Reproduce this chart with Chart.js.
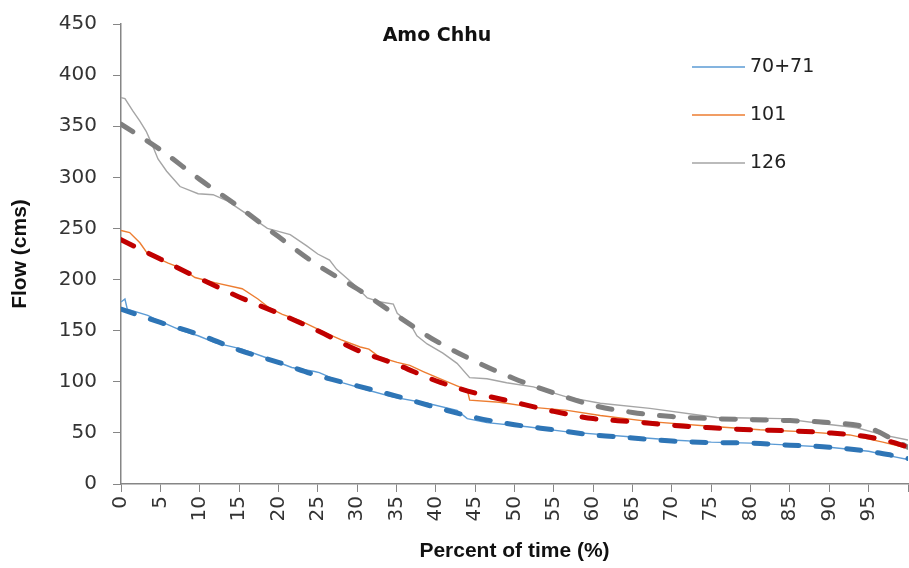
<!DOCTYPE html>
<html>
<head>
<meta charset="utf-8">
<script src="https://cdn.jsdelivr.net/npm/chart.js@4.4.1/dist/chart.umd.min.js"></script>
<style>
  html, body { margin: 0; padding: 0; background: #fff; }
  #wrap { width: 909px; height: 568px; }
</style>
</head>
<body>
<div id="wrap"><canvas id="grafico" width="909" height="568"></canvas></div>
<script>
// observed flow duration curves (thin lines)
const pct7071 = [0, 0.5, 0.8, 3.4, 4.7, 7.7, 9.8, 12, 15.4, 18.3, 21.7, 24.6, 25.2, 28.2, 31.3, 34.6, 38.9, 42.7, 44, 46.5, 51.6, 56.7, 65, 70, 75, 80, 85, 90, 95, 98, 100];
const flow7071 = [178, 181, 171, 165, 160, 150, 145, 138, 132, 124, 114, 110, 109, 99, 92, 85, 79, 72, 64, 60, 56, 51, 46, 43, 41, 40, 38, 36, 32, 27, 24];

const pct101 = [0, 1.1, 2.4, 3.4, 6, 7.7, 9.4, 11.9, 15.4, 17.4, 18.9, 20.5, 22.7, 26.2, 28, 30.4, 31.5, 32.9, 35.1, 36.7, 38.4, 40.5, 42.7, 44, 44.3, 48.1, 52.4, 56.7, 60.9, 67.2, 75.7, 81.2, 87.2, 92.6, 96.8, 100];
const flow101 = [248, 246, 236, 225, 216, 211, 202, 197, 191, 181, 172, 166, 160, 147, 141, 134, 132, 124, 119, 116, 110, 103, 96, 92, 82, 80, 75, 72, 67, 61, 56, 53, 51, 48, 41, 35];

const pct126 = [0, 0.5, 1.5, 2.4, 3.2, 3.9, 4.7, 5.8, 7.5, 9.8, 11.7, 13.5, 16, 18.6, 21.5, 23.6, 25, 26.5, 27.4, 29.5, 31.3, 33, 34.6, 35.1, 36.7, 37.6, 38.9, 40.9, 42.7, 44.3, 46.5, 49, 52.4, 56.7, 60.9, 67.2, 75.7, 84.1, 89.2, 93.5, 96.8, 100];
const flow126 = [378, 377, 365, 355, 345, 333, 318, 306, 291, 284, 283, 277, 264, 250, 244, 233, 225, 219, 210, 196, 182, 178, 176, 167, 157, 145, 137, 128, 118, 104, 103, 99, 95, 85, 79, 74, 65, 64, 59, 55, 48, 43];

// fitted curves (thick dashed lines)
const pctFit = [0, 5, 10, 15, 20, 25, 30, 35, 40, 45, 50, 55, 60, 65, 70, 75, 80, 85, 90, 95, 98, 100];
const fit7071 = [171, 158, 146, 131, 119, 106, 96, 86, 75, 65, 58, 53, 48, 45, 42, 40.5, 40, 38, 36, 32, 28, 25];
const fit101 = [239, 220, 201, 183, 167, 150, 131, 117, 101, 89, 80, 71, 64, 61, 57.5, 55, 53, 52, 50, 46, 41, 36];
const fit126 = [352, 327, 298, 271, 242, 214, 191, 165, 140, 120, 103, 89, 77, 70, 66, 64, 63, 62, 60, 55, 44, 36];

const xTicks = [0, 5, 10, 15, 20, 25, 30, 35, 40, 45, 50, 55, 60, 65, 70, 75, 80, 85, 90, 95];
const legendLabels = ["70+71", "101", "126"];
const chartTitle = "Amo Chhu";

const pares = (xs, ys) => xs.map((x, i) => ({ x: x, y: ys[i] }));

function linhaFina(label, xs, ys, cor) {
  return { label, data: pares(xs, ys), borderColor: cor, borderWidth: 1.4, pointRadius: 0, tension: 0, fill: false, order: 2 };
}
function linhaAjuste(label, xs, ys, cor) {
  return {
    label, data: pares(xs, ys), borderColor: cor, borderWidth: 5, borderDash: [14, 17],
    borderCapStyle: 'round', pointRadius: 0, cubicInterpolationMode: 'monotone', fill: false, order: 1
  };
}

// legenda e titulo desenhados dentro da area do grafico
const legendaInterna = {
  id: 'legendaInterna',
  afterDraw(chart) {
    const ctx = chart.ctx;
    const cores = ['#5B9BD5', '#ED7D31', '#A5A5A5'];
    ctx.save();
    ctx.font = '19px "DejaVu Sans"';
    ctx.textBaseline = 'middle';
    legendLabels.forEach((t, i) => {
      const y = 67 + i * 48;
      ctx.strokeStyle = cores[i];
      ctx.lineWidth = 1.5;
      ctx.beginPath();
      ctx.moveTo(692, y);
      ctx.lineTo(745, y);
      ctx.stroke();
      ctx.fillStyle = '#222';
      ctx.fillText(t, 750, y);
    });
    ctx.font = 'bold 19px "DejaVu Sans"';
    ctx.textAlign = 'center';
    ctx.fillStyle = '#111';
    ctx.fillText(chartTitle, 437, 36);
    ctx.restore();
  }
};

const ctx = document.getElementById('grafico').getContext('2d');
new Chart(ctx, {
  type: 'line',
  data: {
    datasets: [
      linhaFina(legendLabels[0], pct7071, flow7071, '#5B9BD5'),
      linhaFina(legendLabels[1], pct101, flow101, '#ED7D31'),
      linhaFina(legendLabels[2], pct126, flow126, '#A5A5A5'),
      linhaAjuste('fit 70+71', pctFit, fit7071, '#2E75B6'),
      linhaAjuste('fit 101', pctFit, fit101, '#C00000'),
      linhaAjuste('fit 126', pctFit, fit126, '#7F7F7F')
    ]
  },
  options: {
    responsive: false,
    animation: false,
    layout: { padding: { top: 24, right: 1, left: 0, bottom: 0 } },
    plugins: { legend: { display: false }, tooltip: { enabled: false }, title: { display: false } },
    scales: {
      x: {
        type: 'linear', min: 0, max: 100,
        afterBuildTicks: s => { s.ticks = xTicks.concat([100]).map(v => ({ value: v })); },
        afterFit: s => { s.height = 84; s.paddingLeft = 0; s.paddingRight = 0; s.paddingTop = 0; s.paddingBottom = 0; },
        ticks: {
          autoSkip: false, maxRotation: 90, minRotation: 90, padding: 4,
          color: '#333', font: { family: 'DejaVu Sans', size: 20 },
          callback: v => (v === 100 ? '' : v)
        },
        grid: { drawOnChartArea: false, drawTicks: true, tickLength: 8, color: '#868686' },
        border: { color: '#868686', width: 1.5 },
        title: { display: true, text: 'Percent of time (%)', color: '#111', font: { family: 'Liberation Sans', size: 21, weight: 'bold' }, padding: { top: 0, bottom: 4 } }
      },
      y: {
        min: 0, max: 450,
        afterFit: s => { s.width = 121; s.paddingTop = 0; s.paddingBottom = 0; },
        ticks: { stepSize: 50, padding: 16, color: '#333', font: { family: 'DejaVu Sans', size: 20 } },
        grid: { drawOnChartArea: false, drawTicks: true, tickLength: 8, color: '#868686' },
        border: { color: '#868686', width: 1.5 },
        title: { display: true, text: 'Flow (cms)', color: '#111', font: { family: 'Liberation Sans', size: 21, weight: 'bold' }, padding: { top: 8, bottom: 0 } }
      }
    }
  },
  plugins: [legendaInterna]
});
</script>
</body>
</html>
